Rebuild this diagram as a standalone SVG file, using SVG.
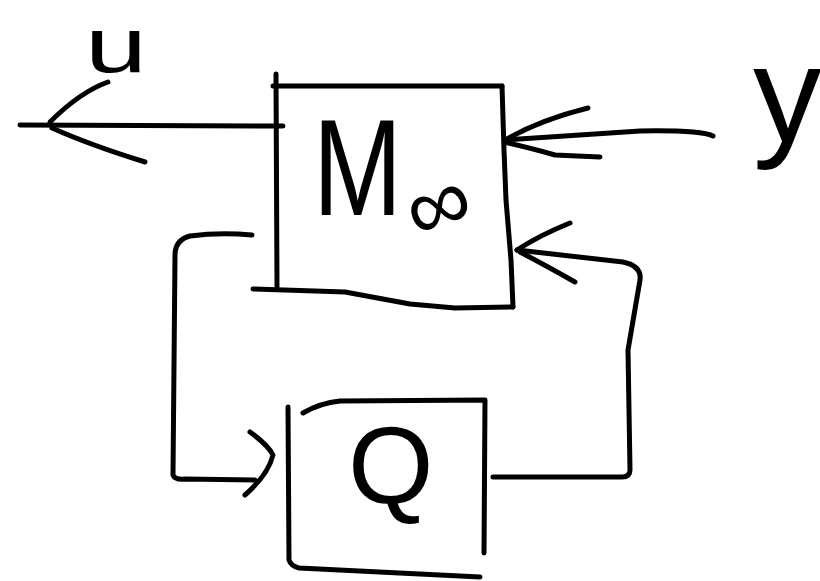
<svg xmlns="http://www.w3.org/2000/svg" width="820" height="581" viewBox="0 0 820 581">
  <style>
    .ink { fill: none; stroke: #000; stroke-width: 5; stroke-linecap: round; stroke-linejoin: round; }
    .lbl { font-family: "Liberation Sans", "DejaVu Sans", sans-serif; fill: #000; }
  </style>
  <rect width="820" height="581" fill="#fff"/>

  <!-- plant block M∞ -->
  <g id="node-M">
    <path class="ink" d="M276,74 L277,287"/>
    <path class="ink" d="M273,86 L502,86"/>
    <path class="ink" d="M502,86 L504,150 L506,200 L511,260 L513,307"/>
    <path class="ink" d="M253,289 L345,292 L410,304 L455,308 L513,307"/>
    <text class="lbl" x="313" y="215" font-size="137" textLength="89" lengthAdjust="spacingAndGlyphs">M</text>
    <text class="lbl" x="406" y="232" font-size="90" font-family="DejaVu Sans, sans-serif" transform="rotate(-20 445 204)">∞</text>
  </g>

  <!-- controller block Q -->
  <g id="node-Q">
    <path class="ink" d="M288,407 L289,560 Q291,566 299,568 L480,577"/>
    <path class="ink" d="M303,413 Q320,403 340,401 L485,400 L484,553"/>
    <text class="lbl" x="348" y="503" font-size="110">Q</text>
  </g>

  <!-- signal labels -->
  <g id="label-u">
    <text class="lbl" x="85" y="72" font-size="78" textLength="62" lengthAdjust="spacingAndGlyphs">u</text>
  </g>
  <g id="label-y">
    <text class="lbl" x="753" y="141" font-size="137">y</text>
  </g>

  <!-- signal lines and arrowheads -->
  <g id="connectors">
    <!-- output u -->
    <path class="ink" d="M20,125 L283,126"/>
    <path class="ink" d="M108,82 Q80,92 50,122"/>
    <path class="ink" d="M52,128 Q90,145 145,162"/>
    <!-- input y -->
    <path class="ink" d="M713,136 Q700,130 640,131 L505,140"/>
    <path class="ink" d="M588,108 Q540,120 505,140"/>
    <path class="ink" d="M600,157 L555,155 Q530,148 508,143"/>
    <!-- Q output back into M -->
    <path class="ink" d="M517,250 L623,262 Q642,266 640,280 L628,350 L630,470 Q630,477 622,477 L493,477"/>
    <path class="ink" d="M570,223 Q540,235 517,250"/>
    <path class="ink" d="M575,282 Q545,265 520,252"/>
    <!-- M output into Q -->
    <path class="ink" d="M252,235 Q220,232 190,236 Q175,240 175,255 L173,475 Q175,480 185,479 L255,480"/>
    <path class="ink" d="M250,432 Q268,445 273,455 Q268,475 245,495"/>
  </g>
</svg>
